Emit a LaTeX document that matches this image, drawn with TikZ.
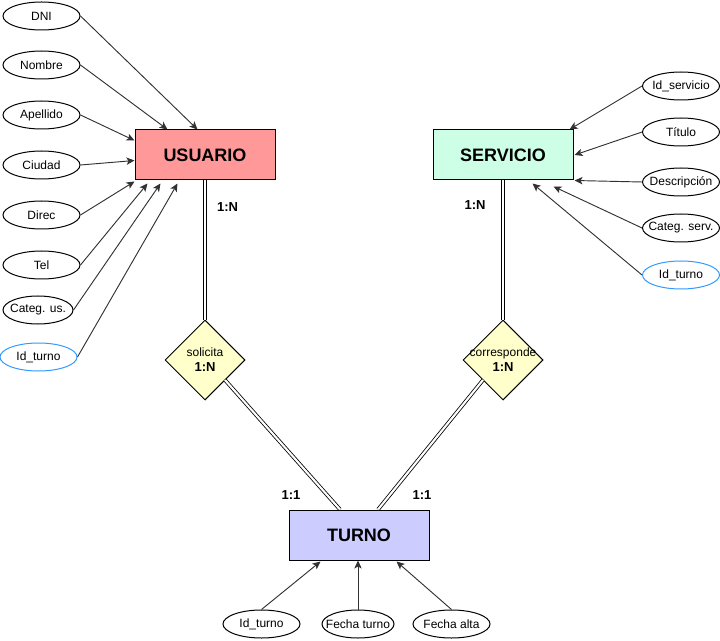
\documentclass[tikz,border=0pt]{standalone}
\usepackage{fontspec}
\setmainfont{Liberation Sans}
\usetikzlibrary{shapes.geometric,arrows.meta,calc}
\definecolor{usrc}{RGB}{255,153,153}
\definecolor{srvc}{RGB}{204,255,230}
\definecolor{turc}{RGB}{204,204,255}
\definecolor{relc}{RGB}{255,255,204}
\definecolor{idblue}{RGB}{51,153,255}
\definecolor{linec}{RGB}{50,50,50}
\newcommand\zw[1]{\makebox[0pt]{#1}}
\begin{document}
\begin{tikzpicture}[x=0.75pt,y=-0.75pt,
 ent/.style={draw,line width=0.75pt,minimum width=105pt,minimum height=37.5pt,inner sep=0pt,font=\fontsize{13.5}{16}\selectfont\bfseries},
 attr/.style={draw,ellipse,line width=0.75pt,minimum width=57.75pt,minimum height=21pt,inner sep=0pt,font=\fontsize{9}{11}\selectfont},
 keyattr/.style={attr,draw=idblue},
 rel/.style={draw,diamond,aspect=1,minimum width=60pt,minimum height=60pt,inner sep=0pt,fill=relc,line width=0.75pt},
 arr/.style={-{Stealth[length=6pt,width=5.5pt,inset=1.5pt]},line width=0.7pt,draw=linec},
 dbl/.style={double,double distance=1.6pt,line width=0.6pt},
 card/.style={font=\fontsize{9.75}{11}\selectfont\bfseries},
 rellabel/.style={align=center,font=\fontsize{9}{11.25}\selectfont}]
\useasboundingbox (0,0) rectangle (720,641);

% entities
\node[ent,fill=usrc] (usuario) at (205,155) {USUARIO};
\node[ent,fill=srvc] (servicio) at (503,155) {SERVICIO};
\node[ent,fill=turc] (turno) at (359,535) {TURNO};

% relationships
\node[rel,label={[rellabel]center:{solicita\\\fontsize{9.75}{11.25}\selectfont\bfseries 1:N}}] (solicita) at (205,360) {};
\node[rel,label={[rellabel]center:{corresponde\\\fontsize{9.75}{11.25}\selectfont\bfseries 1:N}}] (corresp) at (503,360) {};

% USUARIO attributes
\node[attr] (dni) at (41.5,16) {\zw{DNI}};
\node[attr] (nombre) at (41.5,65) {\zw{Nombre}};
\node[attr] (apellido) at (41.5,115) {\zw{Apellido}};
\node[attr] (ciudad) at (41.5,165) {\zw{Ciudad}};
\node[attr] (direc) at (41.5,215) {\zw{Direc}};
\node[attr] (tel) at (41.5,265) {\zw{Tel}};
\node[attr,minimum width=52.5pt] (categus) at (38,310) {\zw{Categ. us.}};
\node[keyattr] (idtu) at (38.5,357) {\zw{Id\_turno}};

% SERVICIO attributes
\node[attr] (idserv) at (681,86) {\zw{Id\_servicio}};
\node[attr] (titulo) at (681,132) {\zw{Título}};
\node[attr] (desc) at (681,182) {\zw{Descripción}};
\node[attr] (categserv) at (681,228) {\zw{Categ. serv.}};
\node[keyattr] (idts) at (681,275) {\zw{Id\_turno}};

% TURNO attributes
\node[attr] (idt) at (261.5,624) {\zw{Id\_turno}};
\node[attr,minimum width=54pt] (fturno) at (358,624) {\zw{Fecha turno}};
\node[attr] (falta) at (451.5,624) {\zw{Fecha alta}};

% arrows to USUARIO
\draw[arr] (dni.east) -- ($(usuario.north west)+(63,0)$);
\draw[arr] (nombre.east) -- ($(usuario.north west)+(33,0)$);
\draw[arr] (apellido.east) -- ($(usuario.north west)+(0,11)$);
\draw[arr] (ciudad.east) -- ($(usuario.north west)+(0,31)$);
\draw[arr] (direc.east) -- ($(usuario.south west)+(0,1)$);
\draw[arr] (tel.east) -- ($(usuario.south west)+(13,3)$);
\draw[arr] (categus.east) -- ($(usuario.south west)+(26,3)$);
\draw[arr] (idtu.east) -- ($(usuario.south west)+(43,3)$);

% arrows to SERVICIO
\draw[arr] (idserv.west) -- ($(servicio.north east)+(-4,0)$);
\draw[arr] (titulo.west) -- ($(servicio.east)+(1,0)$);
\draw[arr] (desc.west) -- ($(servicio.south east)+(1,0)$);
\draw[arr] (categserv.west) -- ($(servicio.south east)+(-20,6)$);
\draw[arr] (idts.west) -- ($(servicio.south east)+(-41,3)$);

% arrows to TURNO
\draw[arr] (idt.north) -- ($(turno.south west)+(32,1)$);
\draw[arr] (fturno.north) -- (fturno.north |- turno.south);
\draw[arr] (falta.north) -- ($(turno.south east)+(-33,1)$);

% relationship connectors
\draw[dbl] (usuario.south) -- (solicita.north);
\draw[dbl] (servicio.south) -- (corresp.north);
\draw[dbl] ($(solicita.center)+(20,20)$) -- ($(turno.north)+(-19,0)$);
\draw[dbl] ($(corresp.center)+(-20,20)$) -- ($(turno.north)+(19,0)$);

% cardinalities
\node[card] (c1) at (227.5,207) {1:N};
\node[card] (c2) at (475,205) {1:N};
\node[card] (c3) at (291,495) {1:1};
\node[card] (c4) at (422,495) {1:1};
\end{tikzpicture}
\end{document}
